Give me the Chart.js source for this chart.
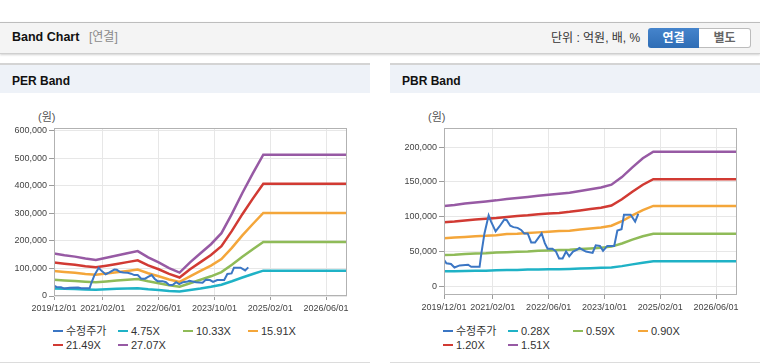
<!DOCTYPE html>
<html>
<head>
<meta charset="utf-8">
<script src="https://cdn.jsdelivr.net/npm/chart.js@4"></script>
<style>
  body { margin: 0; width: 760px; height: 364px; background: #fff; position: relative; overflow: hidden;
         font-family: "Liberation Sans", "Noto Sans CJK KR", sans-serif; }
  .topbar { position: absolute; left: 0; top: 22px; width: 760px; height: 30px; background: #f4f4f4;
            border-top: 1px solid #bdbdbd; border-bottom: 1px solid #cfcfcf; box-shadow: 0 1px 2px rgba(0,0,0,0.18); }
  .title { position: absolute; left: 12px; top: 31px; font-size: 12.5px; line-height: 12.5px; font-weight: bold; color: #111; }
  .sub { position: absolute; left: 89px; top: 30px; font-size: 12px; line-height: 14px; color: #8a8a8a; }
  .unit { position: absolute; left: 551px; top: 30px; font-size: 12px; line-height: 16px; color: #333; }
  .btn { position: absolute; top: 28px; height: 20px; font-size: 12px; line-height: 20px; font-weight: bold; text-align: center; box-sizing: border-box; }
  .btn.on { left: 648px; width: 51px; background: linear-gradient(#4584cc, #2f6db5); color: #fff; border-radius: 3px 0 0 3px; }
  .btn.off { left: 699px; width: 52px; background: #fff; color: #666; border: 1px solid #bcbcbc; border-left: none; border-radius: 0 3px 3px 0; line-height: 18px; }
  .panel { position: absolute; top: 63px; width: 370px; height: 300px; border-top: 2px solid #d4d4d4; border-bottom: 1px solid #dcdcdc; box-sizing: border-box; }
  .phead { position: absolute; left: 0; top: 0; width: 100%; height: 28px; background: #eef2f8; }
  .ptitle { position: absolute; left: 12px; top: 10px; font-size: 12px; line-height: 12px; font-weight: bold; color: #111; }
  .won { position: absolute; left: 38px; top: 46px; font-size: 11px; line-height: 12px; color: #555; }
  canvas { position: absolute; left: 0; top: 35px; }
  .legend { position: absolute; left: 53px; top: 260px; width: 300px; font-size: 11px; color: #333; }
  .li { position: absolute; white-space: nowrap; height: 13px; line-height: 13px; }
  .li i { display: inline-block; width: 10px; height: 2px; vertical-align: middle; margin-right: 3px; position: relative; top: -1px; }
</style>
</head>
<body>
<div class="topbar"></div>
<div class="title">Band Chart</div>
<div class="sub">[연결]</div>
<div class="unit">단위 : 억원, 배, %</div>
<div class="btn on">연결</div>
<div class="btn off">별도</div>

<div class="panel" style="left:0">
  <div class="phead"><div class="ptitle">PER Band</div></div>
  <div class="won">(원)</div>
  <canvas id="perChart" width="370" height="220"></canvas>
  <div class="legend" id="perLegend"></div>
</div>
<div class="panel" style="left:390px">
  <div class="phead"><div class="ptitle">PBR Band</div></div>
  <div class="won">(원)</div>
  <canvas id="pbrChart" width="370" height="220"></canvas>
  <div class="legend" id="pbrLegend"></div>
</div>

<script>
// x values are months counted from 2019/12/01
const tickMonths = [0, 14, 30, 46, 62, 78];
const tickLabels = ['2019/12/01', '2021/02/01', '2022/06/01', '2023/10/01', '2025/02/01', '2026/06/01'];

// adjusted price (수정주가)
const priceMonths = [0, 0.7, 2, 3, 4.5, 6.9, 7.8, 10.2, 10.7, 11.6, 12.8, 13.5, 14.8, 15.9, 17.3, 18, 19, 19.9,
  21.1, 22.1, 23, 24, 25, 26.1, 27.1, 28, 28.9, 29.7, 31.1, 32.1, 33, 34, 35, 35.9, 37, 38.3, 38.8, 40.7,
  42.6, 43.5, 44.7, 45.6, 46.8, 48.8, 49.7, 50.9, 51.6, 53.5, 54.8, 55.7];
const priceValues = [38000, 33000, 32000, 27000, 30000, 31000, 28000, 28000, 47000, 76000, 102000, 93000, 79000,
  86000, 96000, 95000, 87000, 85000, 84000, 81000, 76000, 76000, 63000, 63000, 70000, 76000, 62000, 54000,
  54000, 50000, 40000, 40000, 50000, 43000, 50000, 53000, 55000, 50000, 48000, 59000, 58000, 51000, 58000,
  58000, 80000, 82000, 103000, 103000, 93000, 104000];

const bandMonths = [0, 3, 6, 9, 12, 15, 18, 21, 24, 27, 30, 33, 36, 39, 42, 45, 48, 51, 54, 57, 60, 84];

// PER band
const perLabels = ['수정주가', '4.75X', '10.33X', '15.91X', '21.49X', '27.07X'];
const per475 = [27000, 26000, 25000, 24000, 23000, 24500, 26000, 27000, 28500, 24500, 21500, 18000, 16000,
  21500, 27000, 33500, 41000, 53500, 67000, 80000, 92000, 92000];
const per1033 = [59000, 56500, 54500, 52000, 50000, 53000, 56000, 59000, 62000, 53500, 46500, 39000, 34000,
  46500, 59000, 71500, 87000, 113500, 142500, 170000, 196000, 196000];
const per1591 = [90500, 87000, 84000, 80000, 77000, 81500, 86500, 91000, 96000, 82500, 71500, 60000, 51000,
  71500, 91000, 110500, 134000, 175000, 220000, 261500, 301500, 301500];
const per2149 = [122000, 117500, 113500, 108000, 104000, 110000, 116500, 123000, 129500, 111000, 97000, 80500,
  67000, 97000, 123000, 149000, 181000, 236500, 297000, 353500, 407500, 407500];
const per2707 = [154000, 148000, 143000, 136000, 131000, 139000, 147000, 155000, 163000, 140000, 122000, 101000,
  85000, 122000, 155000, 188000, 228000, 298000, 374000, 445000, 513000, 513000];
const perYTicks = [0, 100000, 200000, 300000, 400000, 500000, 600000];

// PBR band
const pbrLabels = ['수정주가', '0.28X', '0.59X', '0.90X', '1.20X', '1.51X'];
const pbr028 = [21500, 21500, 22000, 22500, 22500, 23000, 23500, 23500, 24000, 24000, 24500, 24500, 25000,
  25500, 26000, 26500, 27000, 29000, 31500, 34000, 36000, 36000];
const pbr059 = [45000, 45500, 46500, 47000, 47500, 48500, 49000, 49500, 50000, 51000, 51500, 52000, 52500,
  53500, 54500, 55500, 57000, 61500, 67000, 72000, 75500, 75500];
const pbr090 = [69000, 70000, 71000, 72000, 72500, 73500, 75000, 75500, 76500, 77500, 78500, 79500, 80000,
  81500, 83000, 84500, 87000, 93500, 102000, 109500, 115500, 115500];
const pbr120 = [92000, 93000, 94500, 96000, 97000, 98000, 99500, 101000, 102000, 103500, 104500, 105500, 107000,
  109000, 111000, 113000, 116000, 125000, 136000, 146000, 154000, 154000];
const pbr151 = [115500, 117000, 119000, 120500, 122000, 123500, 125500, 127000, 128500, 130000, 131500, 133000,
  134500, 137000, 139500, 142000, 146000, 157000, 171000, 184000, 193500, 193500];
const pbrYTicks = [0, 50000, 100000, 150000, 200000];

const colors = ['#3b76c4', '#1fb2c6', '#8fbb58', '#f4a63a', '#d13a33', '#975aa4'];
const tickFont = { family: 'Liberation Sans', size: 9 };

const plotBorder = {
  id: 'plotBorder',
  afterDraw(chart) {
    const { ctx, chartArea: a } = chart;
    ctx.save();
    ctx.strokeStyle = '#b2b2b2';
    ctx.lineWidth = 1;
    ctx.strokeRect(Math.round(a.left) + 0.5, Math.round(a.top) + 0.5,
      Math.round(a.right - a.left) - 1, Math.round(a.bottom - a.top) - 1);
    ctx.restore();
  }
};

function points(xs, ys) {
  return xs.map((x, i) => ({ x: x, y: ys[i] }));
}

function makeChart(id, legendId, labels, bands, yTicks, yMin, yMax, xHeight) {
  const datasets = [{ label: labels[0], data: points(priceMonths, priceValues), borderColor: colors[0], borderWidth: 2 }];
  bands.forEach((b, i) => {
    datasets.push({ label: labels[i + 1], data: points(bandMonths, b), borderColor: colors[i + 1], borderWidth: 2.5 });
  });
  const chart = new Chart(document.getElementById(id), {
    type: 'line',
    data: { datasets: datasets },
    options: {
      responsive: false,
      animation: false,
      devicePixelRatio: 1,
      parsing: true,
      elements: { point: { radius: 0 }, line: { tension: 0, fill: false, borderCapStyle: 'butt' } },
      layout: { padding: { top: 28, right: 23, left: 0, bottom: 0 } },
      plugins: { legend: { display: false }, tooltip: { enabled: false } },
      scales: {
        x: {
          type: 'linear', min: 0, max: 84,
          afterBuildTicks: s => { s.ticks = tickMonths.map(v => ({ value: v })); },
          afterFit: s => { s.height = xHeight; },
          ticks: { callback: (v, i) => tickLabels[i], font: tickFont, color: '#444', padding: 3, maxRotation: 0, autoSkip: false },
          grid: { color: '#e7e7e7', tickColor: '#9c9c9c', tickLength: 4 },
          border: { display: false }
        },
        y: {
          min: yMin, max: yMax,
          afterBuildTicks: s => { s.ticks = yTicks.map(v => ({ value: v })); },
          afterFit: s => { s.width = 54; },
          ticks: { callback: v => v.toLocaleString('en-US'), font: tickFont, color: '#444', padding: 2 },
          grid: { color: '#e7e7e7', tickColor: '#9c9c9c', tickLength: 5 },
          border: { display: false }
        }
      }
    },
    plugins: [plotBorder]
  });

  // legend in fixed columns, built from the chart's own datasets
  const box = document.getElementById(legendId);
  chart.data.datasets.forEach((d, i) => {
    const el = document.createElement('div');
    el.className = 'li';
    el.style.left = ((i % 4) * 65) + 'px';
    el.style.top = (Math.floor(i / 4) * 13.5) + 'px';
    el.innerHTML = '<i style="background:' + d.borderColor + '"></i>' + d.label;
    box.appendChild(el);
  });
  return chart;
}

makeChart('perChart', 'perLegend', perLabels, [per475, per1033, per1591, per2149, per2707], perYTicks, 0, 610000, 24);
makeChart('pbrChart', 'pbrLegend', pbrLabels, [pbr028, pbr059, pbr090, pbr120, pbr151], pbrYTicks, -12500, 227500, 25);
</script>
</body>
</html>
